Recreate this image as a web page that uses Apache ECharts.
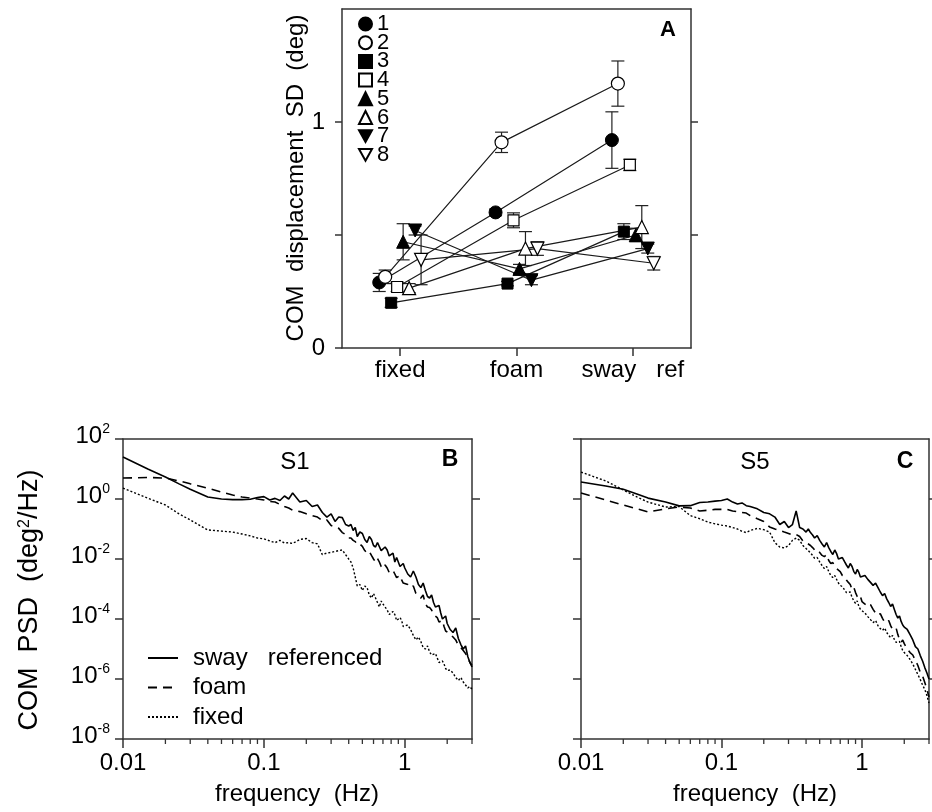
<!DOCTYPE html>
<html><head><meta charset="utf-8">
<script src="https://cdn.jsdelivr.net/npm/echarts@6/dist/echarts.min.js"></script>
<style>html,body{margin:0;padding:0;background:#fff}#c{width:932px;height:812px}</style>
</head><body><div id="c"></div>
<script>
// ---------- Panel A data ----------
const conditions = ['fixed', 'foam', 'sway   ref'];
const subjects = ['1', '2', '3', '4', '5', '6', '7', '8'];
// COM displacement SD (deg), per subject: [fixed, foam, sway ref]
const comSdMean = [
  [0.29, 0.60, 0.92],
  [0.315, 0.91, 1.17],
  [0.20, 0.285, 0.515],
  [0.27, 0.565, 0.81],
  [0.47, 0.35, 0.50],
  [0.265, 0.44, 0.535],
  [0.52, 0.30, 0.44],
  [0.39, 0.44, 0.375]
];
const comSdErr = [
  [0.04, 0.015, 0.125],
  [0.03, 0.045, 0.10],
  [0.02, 0.01, 0.035],
  [0.02, 0.033, 0.025],
  [0.08, 0.02, 0.03],
  [0.02, 0.075, 0.095],
  [0.02, 0.02, 0.02],
  [0.11, 0.03, 0.03]
];
const sdTicks = [0, 0.5, 1];
const sdLabels = [0, 1];

// ---------- Panels B, C data ----------
const freqHz = [0.01,0.015,0.02,0.025,0.03, 0.04,0.05,0.06,0.07,0.08,0.09,0.1,
  0.11,0.12,0.13,0.14,0.15,0.16, 0.18,0.2,0.22,0.24,0.26,0.28,0.3,0.32,0.34,0.36,0.38,0.4,
  0.415,0.43,0.445,0.46,0.48,0.5,0.52,0.54,0.56,0.58,0.6,0.62,0.64,0.66,0.68,0.7,
  0.725,0.75,0.775,0.8,0.825,0.85,0.875,0.9,0.925,0.95,0.975,1.0,
  1.05,1.1,1.15,1.2,1.25,1.3,1.35,1.4,1.45,1.5,1.55,1.6,1.65,1.7,1.75,1.8,1.85,1.9,1.95,2.0,
  2.1,2.2,2.3,2.4,2.5,2.6,2.7,2.8,2.9,3.0];
const psdNames = ['sway   referenced', 'foam', 'fixed'];
// S1 (panel B), deg^2/Hz
const s1Sway = [25,10,5.4,3.2,2.1, 1.17,1.0,0.95,0.95,0.98,1.12,1.2,
  0.93,1.05,0.89,1.26,1.0,1.58, 0.79,0.89,0.56,0.63,0.355,0.25,0.32,0.178,0.25,0.24,0.141,0.126,
  0.141,0.0891,0.112,0.0562,0.0794,0.0708,0.0447,0.0355,0.0562,0.0447,0.0282,0.0251,0.0355,0.0316,0.0191,0.0178,
  0.0251,0.02,0.0126,0.0112,0.0158,0.00794,0.0112,0.0105,0.00562,0.00501,0.00708,0.00501,
  3.16e-3,2.51e-3,3.98e-3,2.51e-3,1.41e-3,1.12e-3,1.58e-3,8.91e-4,5.62e-4,5.01e-4,6.31e-4,3.55e-4,2.51e-4,2.24e-4,2.82e-4,1.58e-4,1.0e-4,1.0e-4,1.26e-4,7.08e-5,
  4.47e-5,3.55e-5,5.01e-5,2.24e-5,1.41e-5,1.0e-5,1.26e-5,5.62e-6,3.55e-6,2.82e-6];
const s1Foam = [5.0,5.2,5.0,4.0,3.2, 2.3,1.7,1.35,1.17,1.07,1.0,0.93,
  0.83,0.79,0.66,0.56,0.5,0.42, 0.38,0.32,0.28,0.25,0.19,0.2,0.13,0.117,0.105,0.076,0.066,0.05,
  0.0501,0.0417,0.038,0.0302,0.0316,0.0263,0.0191,0.0158,0.0178,0.0132,0.01,0.00794,0.0105,0.00794,0.00562,0.00479,
  6.31e-3,5.01e-3,3.55e-3,3.16e-3,4.17e-3,3.16e-3,2.4e-3,2.24e-3,2.82e-3,2.0e-3,1.58e-3,1.66e-3,
  1.41e-3,1.12e-3,1.26e-3,7.08e-4,5.62e-4,5.01e-4,6.31e-4,3.16e-4,2.51e-4,2.4e-4,2.0e-4,1.41e-4,1.58e-4,1.12e-4,7.94e-5,7.08e-5,8.91e-5,5.62e-5,3.98e-5,3.8e-5,
  3.16e-5,2.51e-5,2.0e-5,1.32e-5,1.12e-5,8.91e-6,7.08e-6,5.01e-6,3.55e-6,2.51e-6];
const s1Fixed = [2.3,1.07,0.63,0.32,0.2, 0.093,0.085,0.079,0.068,0.059,0.05,0.047,
  0.04,0.035,0.042,0.034,0.035,0.033, 0.045,0.048,0.035,0.032,0.014,0.0158,0.0166,0.0178,0.019,0.02,0.014,0.01,
  7.94e-3,5.01e-3,2.51e-3,1.26e-3,1.41e-3,8.91e-4,1.26e-3,1.12e-3,6.31e-4,5.01e-4,7.08e-4,5.01e-4,3.55e-4,2.51e-4,3.98e-4,3.16e-4,
  2.51e-4,2.0e-4,1.41e-4,1.41e-4,1.78e-4,1.41e-4,8.91e-5,7.94e-5,1.12e-4,8.91e-5,5.62e-5,5.01e-5,
  6.31e-5,4.47e-5,2.82e-5,2.0e-5,2.51e-5,1.78e-5,1.12e-5,1.0e-5,1.26e-5,7.94e-6,6.31e-6,5.62e-6,7.08e-6,5.01e-6,3.55e-6,3.16e-6,3.98e-6,3.16e-6,2.24e-6,1.91e-6,
  2.0e-6,1.58e-6,1.12e-6,8.91e-7,1.12e-6,7.94e-7,6.31e-7,5.01e-7,5.62e-7,4.47e-7];
// S5 (panel C)
const s5Sway = [3.7,2.7,2.1,1.48,1.07, 0.79,0.59,0.6,0.76,0.79,0.85,0.89,
  1.0,0.79,0.68,0.74,0.6,0.56, 0.47,0.355,0.32,0.25,0.141,0.178,0.112,0.141,0.4,0.112,0.1,0.079,
  0.1,7.59e-2,6.31e-2,5.01e-2,6.03e-2,4.17e-2,3.16e-2,2.51e-2,3.55e-2,2.4e-2,1.78e-2,1.41e-2,2.0e-2,1.51e-2,1.0e-2,8.91e-3,
  1.12e-2,8.32e-3,6.31e-3,5.01e-3,7.08e-3,5.62e-3,3.8e-3,3.16e-3,4.47e-3,3.55e-3,2.51e-3,2.4e-3,
  2.82e-3,2.09e-3,1.66e-3,1.32e-3,1.58e-3,1.12e-3,7.94e-4,6.03e-4,7.08e-4,4.68e-4,3.55e-4,2.63e-4,3.16e-4,2.09e-4,1.41e-4,1.07e-4,1.26e-4,8.32e-5,6.31e-5,5.37e-5,
  4.47e-5,3.02e-5,2.0e-5,1.2e-5,1.0e-5,6.03e-6,3.98e-6,2.4e-6,1.58e-6,1.0e-6];
const s5Foam = [1.58,0.93,0.63,0.47,0.37, 0.47,0.54,0.5,0.4,0.42,0.45,0.45,
  0.45,0.4,0.38,0.355,0.34,0.28, 0.22,0.178,0.117,0.1,0.089,0.079,0.071,0.063,0.066,0.056,0.04,0.035,
  3.16e-2,2.82e-2,2.4e-2,2.0e-2,2.09e-2,1.66e-2,1.32e-2,1.2e-2,1.41e-2,8.91e-3,7.08e-3,7.59e-3,5.62e-3,4.79e-3,5.01e-3,3.8e-3,
  2.82e-3,2.63e-3,2.0e-3,1.66e-3,1.41e-3,9.55e-4,1.12e-3,7.59e-4,5.62e-4,4.79e-4,5.62e-4,3.8e-4,
  3.16e-4,2.63e-4,3.02e-4,2.09e-4,1.58e-4,1.32e-4,1.51e-4,1.05e-4,7.94e-5,7.59e-5,8.91e-5,6.03e-5,4.47e-5,4.17e-5,5.01e-5,3.02e-5,2.09e-5,1.66e-5,2.0e-5,1.51e-5,
  1.0e-5,7.59e-6,6.31e-6,4.17e-6,2.82e-6,1.66e-6,1.26e-6,7.59e-7,4.47e-7,2.51e-7];
const s5Fixed = [7.9,4.0,2.0,1.17,0.79, 0.54,0.56,0.28,0.22,0.17,0.148,0.135,
  0.126,0.112,0.1,0.083,0.076,0.089, 0.105,0.095,0.079,0.035,0.025,0.0234,0.028,0.042,0.05,0.042,0.028,0.0224,
  1.91e-2,1.58e-2,1.32e-2,1.05e-2,1.12e-2,7.94e-3,6.03e-3,4.79e-3,5.62e-3,3.8e-3,2.82e-3,2.4e-3,2.82e-3,2.09e-3,1.58e-3,1.32e-3,
  1.2e-3,9.55e-4,7.59e-4,6.61e-4,7.94e-4,5.25e-4,3.98e-4,3.31e-4,3.98e-4,2.63e-4,2.09e-4,1.91e-4,
  1.58e-4,1.2e-4,9.55e-5,7.59e-5,8.91e-5,6.03e-5,4.79e-5,4.17e-5,5.01e-5,3.55e-5,2.82e-5,2.4e-5,2.82e-5,2.09e-5,1.66e-5,1.51e-5,1.78e-5,1.2e-5,8.91e-6,7.59e-6,
  6.03e-6,4.47e-6,3.16e-6,2.09e-6,1.41e-6,9.55e-7,6.31e-7,4.47e-7,2.82e-7,1.58e-7];
const freqTicks = [0.01, 0.1, 1];
const freqMinorTicks = [0.02,0.03,0.04,0.05,0.06,0.07,0.08,0.09,0.2,0.3,0.4,0.5,0.6,0.7,0.8,0.9,2,3];
const psdTicks = [1e-8, 1e-6, 1e-4, 1e-2, 1, 1e2];
const psdRightTicks = [1e-6, 1e-4, 1e-2, 1];

// ---------- styling ----------
const FONT = '"Liberation Sans", Arial, Helvetica, sans-serif';
const AXC = '#333';
const AXL = {color: AXC, width: 1.5};
const INV = 'path://M0,0 L10,0 L5,9 Z';
const subjSymbol = ['circle','circle','rect','rect','triangle','triangle',INV,INV];
const subjSize = [13,13,11,11,13,13,13,13];
const subjFilled = [true,false,true,false,true,false,true,false];
const offsetOf = i => -0.18 + i * 0.0514;
const supRich = {
  b: {fontSize: 24, fontFamily: FONT, color: '#000', lineHeight: 28},
  s: {fontSize: 14, fontFamily: FONT, color: '#000', verticalAlign: 'top', lineHeight: 14}
};
const expLabel = v => '{b|10}{s|' + Math.round(Math.log10(v)) + '}';

const chart = echarts.init(document.getElementById('c'));

const series = [];
// error bars (panel A)
const errData = [];
subjects.forEach((s, i) => comSdMean[i].forEach((m, c) => {
  errData.push([c + offsetOf(i), m - comSdErr[i][c], m + comSdErr[i][c]]);
}));
series.push({
  type: 'custom', xAxisIndex: 0, yAxisIndex: 0, z: 1, clip: false, silent: true,
  data: errData,
  renderItem: (params, api) => {
    const x = api.value(0);
    const lo = api.coord([x, api.value(1)]);
    const hi = api.coord([x, api.value(2)]);
    const w = 6.5, st = {stroke: '#222', lineWidth: 1.2};
    return {type: 'group', children: [
      {type: 'line', shape: {x1: lo[0], y1: lo[1], x2: hi[0], y2: hi[1]}, style: st},
      {type: 'line', shape: {x1: lo[0]-w, y1: lo[1], x2: lo[0]+w, y2: lo[1]}, style: st},
      {type: 'line', shape: {x1: hi[0]-w, y1: hi[1], x2: hi[0]+w, y2: hi[1]}, style: st}
    ]};
  }
});
subjects.forEach((name, i) => {
  series.push({
    type: 'line', name, xAxisIndex: 0, yAxisIndex: 0, z: 3,
    data: comSdMean[i].map((m, c) => [c + offsetOf(i), m]),
    symbol: subjSymbol[i], symbolSize: subjSize[i], showSymbol: true,
    itemStyle: subjFilled[i] ? {color: '#000', borderColor: '#000', borderWidth: 1}
                             : {color: '#fff', borderColor: '#000', borderWidth: 1.2},
    lineStyle: {color: '#1a1a1a', width: 1.2},
    emphasis: {disabled: true}
  });
});
// PSD lines
const psdStyles = [
  {color: '#000', width: 1.6, type: 'solid'},
  {color: '#000', width: 1.6, type: [9, 6]},
  {color: '#000', width: 1.4, type: [2, 2]}
];
[[s1Sway, s1Foam, s1Fixed], [s5Sway, s5Foam, s5Fixed]].forEach((set, p) => {
  set.forEach((vals, k) => {
    series.push({
      type: 'line', name: psdNames[k], xAxisIndex: 2 + p * 2, yAxisIndex: 2 + p * 2,
      data: freqHz.map((f, j) => [f, vals[j]]), symbol: 'none', showSymbol: false,
      itemStyle: {color: '#000'}, lineStyle: psdStyles[k], clip: true, z: 3,
      emphasis: {disabled: true}
    });
  });
  // minor ticks on log frequency axis
  series.push({
    type: 'custom', xAxisIndex: 2 + p * 2, yAxisIndex: 2 + p * 2, clip: false, silent: true, z: 4,
    data: freqMinorTicks.map(f => [f]),
    renderItem: (params, api) => {
      const pt = api.coord([api.value(0), psdTicks[0]]);
      return {type: 'line', shape: {x1: pt[0], y1: pt[1], x2: pt[0], y2: pt[1] + 5},
        style: {stroke: AXC, lineWidth: 1.3}};
    }
  });
});

const hiddenLbl = {show: false};
const noTick = {show: false};
const noSplit = {show: false};
function freqAxis(grid) {
  return {type: 'log', logBase: 10, gridIndex: grid, min: 0.01, max: 3,
    axisLine: {show: true, onZero: false, lineStyle: AXL},
    axisTick: {show: true, length: 9, customValues: freqTicks, lineStyle: AXL},
    axisLabel: {customValues: freqTicks, formatter: v => String(Number(v.toPrecision(3))),
      fontSize: 24, fontFamily: FONT, color: '#000', margin: 12},
    splitLine: noSplit, minorTick: noTick};
}
function topLine(grid) {
  return {type: 'value', gridIndex: grid, position: 'top', min: 0, max: 1,
    axisLine: {show: true, onZero: false, lineStyle: AXL}, axisTick: noTick, axisLabel: hiddenLbl, splitLine: noSplit};
}
function psdAxis(grid, right, labels) {
  return {type: 'log', logBase: 10, gridIndex: grid, min: 1e-8, max: 1e2, position: right ? 'right' : 'left',
    axisLine: {show: true, onZero: false, lineStyle: AXL},
    axisTick: {show: true, length: 8, customValues: right ? psdRightTicks : psdTicks, lineStyle: AXL},
    axisLabel: labels ? {customValues: psdTicks, formatter: expLabel, rich: supRich, margin: 13, padding: [0, 0, 6, 0]} : hiddenLbl,
    splitLine: noSplit, minorTick: noTick};
}

const option = {
  animation: false,
  backgroundColor: '#fff',
  grid: [
    {left: 342, top: 9, width: 349, height: 339},
    {left: 123, top: 439, width: 349, height: 300},
    {left: 581, top: 439, width: 348, height: 300}
  ],
  xAxis: [
    {type: 'value', gridIndex: 0, min: -0.5, max: 2.5,
      axisLine: {show: true, onZero: false, lineStyle: AXL},
      axisTick: {show: true, length: 8, customValues: [0, 1, 2], lineStyle: AXL},
      axisLabel: {customValues: [0, 1, 2], formatter: v => conditions[Math.round(v)],
        fontSize: 24, fontFamily: FONT, color: '#000', margin: 10},
      splitLine: noSplit},
    topLine(0),
    freqAxis(1), topLine(1),
    freqAxis(2), topLine(2)
  ],
  yAxis: [
    {type: 'value', gridIndex: 0, min: 0, max: 1.5,
      axisLine: {show: true, onZero: false, lineStyle: AXL},
      axisTick: {show: true, length: 7, customValues: sdTicks, lineStyle: AXL},
      axisLabel: {customValues: sdLabels, fontSize: 24, fontFamily: FONT, color: '#000', margin: 17},
      splitLine: noSplit},
    {type: 'value', gridIndex: 0, min: 0, max: 1.5, position: 'right',
      axisLine: {show: true, onZero: false, lineStyle: AXL},
      axisTick: {show: true, length: 7, customValues: [0.5, 1], lineStyle: AXL},
      axisLabel: hiddenLbl, splitLine: noSplit},
    psdAxis(1, false, true), psdAxis(1, true, false),
    psdAxis(2, false, false), psdAxis(2, true, false)
  ],
  legend: [
    {data: subjects.map((n, i) => ({name: n, icon: subjSymbol[i]})),
      orient: 'vertical', left: 353, top: 8, itemWidth: 13, itemHeight: 13, itemGap: -3.3,
      textStyle: {fontSize: 22, fontFamily: FONT, color: '#000'},
      selectedMode: false},
    {data: psdNames, orient: 'vertical', left: 142, top: 641, itemWidth: 30, itemHeight: 14, itemGap: 5.5,
      itemStyle: {opacity: 0},
      textStyle: {fontSize: 24, fontFamily: FONT, color: '#000', lineHeight: 22, padding: [0, 0, 0, 10]},
      selectedMode: false}
  ],
  graphic: [
    {type: 'text', x: 296, y: 178, rotation: Math.PI / 2,
      style: {text: 'COM  displacement  SD  (deg)', fontSize: 24, fontFamily: FONT, fill: '#000', align: 'center', verticalAlign: 'middle'}},
    {type: 'text', x: 668, y: 30,
      style: {text: 'A', fontSize: 22, fontWeight: 'bold', fontFamily: FONT, fill: '#000', align: 'center', verticalAlign: 'middle'}},
    {type: 'text', x: 30, y: 600, rotation: Math.PI / 2,
      style: {text: 'COM  PSD  (deg{s|2}/Hz)', fontSize: 27, fontFamily: FONT, fill: '#000', align: 'center', verticalAlign: 'middle',
        rich: {s: {fontSize: 16, fontFamily: FONT, fill: '#000', verticalAlign: 'top'}}}},
    {type: 'text', x: 297, y: 794,
      style: {text: 'frequency  (Hz)', fontSize: 24, fontFamily: FONT, fill: '#000', align: 'center', verticalAlign: 'middle'}},
    {type: 'text', x: 755, y: 794,
      style: {text: 'frequency  (Hz)', fontSize: 24, fontFamily: FONT, fill: '#000', align: 'center', verticalAlign: 'middle'}},
    {type: 'text', x: 295, y: 462,
      style: {text: 'S1', fontSize: 24, fontFamily: FONT, fill: '#000', align: 'center', verticalAlign: 'middle'}},
    {type: 'text', x: 450, y: 460,
      style: {text: 'B', fontSize: 23, fontWeight: 'bold', fontFamily: FONT, fill: '#000', align: 'center', verticalAlign: 'middle'}},
    {type: 'text', x: 755, y: 462,
      style: {text: 'S5', fontSize: 24, fontFamily: FONT, fill: '#000', align: 'center', verticalAlign: 'middle'}},
    {type: 'text', x: 905, y: 462,
      style: {text: 'C', fontSize: 23, fontWeight: 'bold', fontFamily: FONT, fill: '#000', align: 'center', verticalAlign: 'middle'}}
  ],
  series
};
chart.setOption(option);
</script>
</body></html>
